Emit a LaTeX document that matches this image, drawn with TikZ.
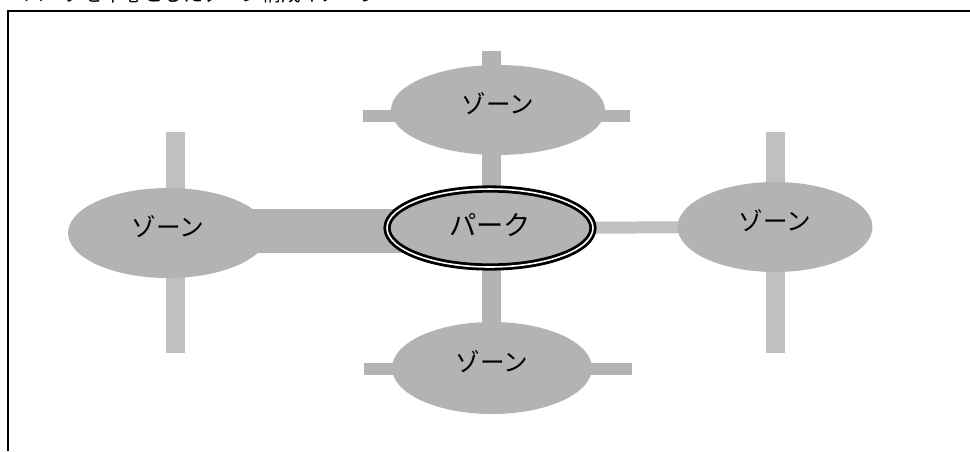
\documentclass[tikz,border=0pt]{standalone}
\usepackage{fontspec}
\newfontfamily\jp{Noto Sans CJK JP}
\usetikzlibrary{shapes.geometric,backgrounds}
\definecolor{zonegray}{HTML}{B3B3B3}
\definecolor{roadgray}{HTML}{C0C0C0}

\begin{document}
\begin{tikzpicture}[x=0.02cm,y=-0.02cm,
  zone/.style={ellipse,fill=zonegray,inner sep=0pt,text height=9pt,text depth=4.5pt,
    font=\jp\fontsize{14}{16}\selectfont},
  park/.style={zone,draw=black,line width=1.6pt,double=white,double distance=0.9pt,
    text height=10pt,text depth=2pt,font=\jp\fontsize{15.5}{17}\selectfont},
  road/.style={draw=zonegray,line width=0.38cm},
  lane/.style={draw=roadgray,line width=0.38cm}]
 \useasboundingbox (0,0) rectangle (970,451);
 \node[anchor=west,font=\jp\fontsize{11.3}{13}\selectfont] (title) at (18,-6) {パークを中心としたゾーン構成イメージ};
 \draw[line width=1.1pt] (8,451) -- (8,11) -- (970,11);

 % zones
 \node[zone,minimum width=4.28cm,minimum height=1.8cm] (north) at (498,110) {ゾーン};
 \node[zone,minimum width=4cm,minimum height=1.8cm] (west) at (168,233) {ゾーン};
 \node[zone,minimum width=3.9cm,minimum height=1.8cm] (east) at (775,227) {ゾーン};
 \node[zone,minimum width=4cm,minimum height=1.84cm] (south) at (492,368) {ゾーン};
 \node[park,minimum width=4.12cm,minimum height=1.56cm] (park) at (490,228) {パーク};

 % roads behind the zones
 \begin{scope}[on background layer]
  \coordinate (ntop) at (491,51);
  \coordinate (nl) at (363,116);
  \coordinate (nr) at (630,116);
  \coordinate (sl) at (364,369);
  \coordinate (sr) at (632,369);
  \coordinate (wt) at (175.5,132);
  \coordinate (wb) at (175.5,353);
  \coordinate (et) at (775.5,132);
  \coordinate (eb) at (775.5,353);
  \draw[road] (ntop) -- (ntop |- south.center);
  \draw[road,line width=0.24cm] (nl) -- (nr);
  \draw[road,line width=0.24cm] (sl) -- (sr);
  \draw[road,line width=0.88cm] ([yshift=0.04cm]west.center) -- ([yshift=0.04cm]west.center -| park.center);
  \draw[lane,line width=0.24cm] (park.center) -- (east.center);
  \draw[lane] (wt) -- (wb);
  \draw[lane] (et) -- (eb);
 \end{scope}
\end{tikzpicture}
\end{document}
